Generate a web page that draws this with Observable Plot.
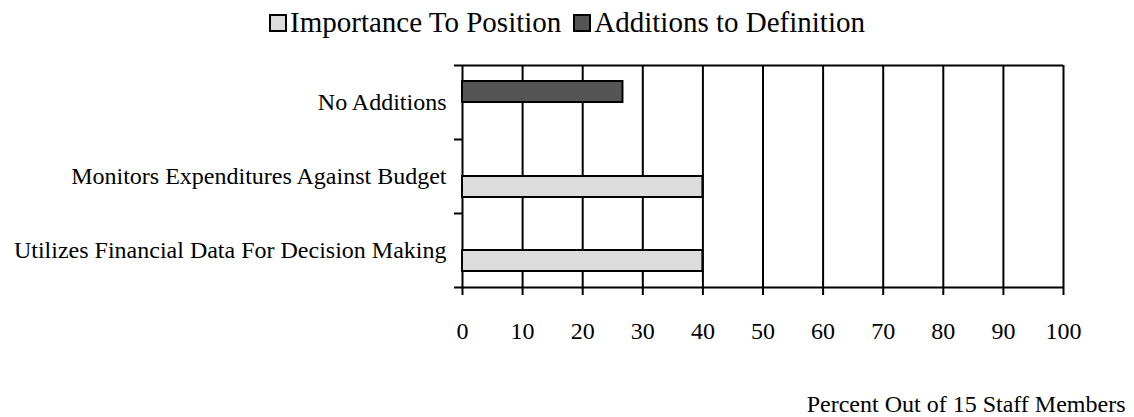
<!DOCTYPE html>
<html>
<head>
<meta charset="utf-8">
<script src="https://cdn.jsdelivr.net/npm/d3@7"></script>
<script src="https://cdn.jsdelivr.net/npm/@observablehq/plot@0.6"></script>
<style>
  body { margin: 0; background: #fff; font-family: "Liberation Serif", "Times New Roman", serif; color: #000; }
  #legend { height: 45px; display: flex; justify-content: center; align-items: center; font-size: 29px; gap: 12px; }
  #legend .item { display: flex; align-items: center; }
  #legend .sw { display: inline-block; width: 14px; height: 14px; border: 2px solid #000; margin-right: 3px; }
</style>
</head>
<body>
<div id="legend"></div>
<div id="chart"></div>
<script>
// Categories, top to bottom
const categories = [
  "No Additions",
  "Monitors Expenditures Against Budget",
  "Utilizes Financial Data For Decision Making"
];
// Percent of 15 staff members per series (null = no bar)
const importanceToPosition = [null, 40, 40];
const additionsToDefinition = [26.7, null, null];

const seriesNames = ["Importance To Position", "Additions to Definition"];
const seriesColors = ["#dcdcdc", "#555555"];
const xTicks = [0, 10, 20, 30, 40, 50, 60, 70, 80, 90, 100];
const xLabel = "Percent Out of 15 Staff Members";

// Legend
const legend = document.getElementById("legend");
seriesNames.forEach((name, i) => {
  const item = document.createElement("span");
  item.className = "item";
  const sw = document.createElement("span");
  sw.className = "sw";
  sw.style.background = seriesColors[i];
  item.appendChild(sw);
  item.appendChild(document.createTextNode(name));
  legend.appendChild(item);
});

const toRows = (values) => categories
  .map((category, i) => ({category, value: values[i]}))
  .filter((d) => d.value != null);

const W = 1134, H = 372;
const mt = 20, mb = 130, ml = 462, mr = 71;
const band = (H - mt - mb) / categories.length;
const barH = 21;
const font = '"Liberation Serif", "Times New Roman", serif';
const last = categories[categories.length - 1];

const chart = Plot.plot({
  width: W,
  height: H,
  marginTop: mt,
  marginBottom: mb,
  marginLeft: ml,
  marginRight: mr,
  style: {fontFamily: font, fontSize: "24px", color: "#000", background: "#fff"},
  x: {domain: [0, 100]},
  y: {domain: categories, padding: 0},
  marks: [
    // vertical grid lines
    Plot.ruleX(xTicks, {stroke: "#000", strokeWidth: 2}),
    // bars
    Plot.barX(toRows(importanceToPosition), {
      x: "value", y: "category", fill: seriesColors[0], stroke: "#000", strokeWidth: 2,
      insetTop: band / 2, insetBottom: band / 2 - barH
    }),
    Plot.barX(toRows(additionsToDefinition), {
      x: "value", y: "category", fill: seriesColors[1], stroke: "#000", strokeWidth: 2,
      insetTop: band / 2 - barH, insetBottom: band / 2
    }),
    // top border and bottom axis line, with left tick stubs
    Plot.ruleY([categories[0]], {y: (d) => d, x1: 0, x2: 100, dy: -band / 2, insetLeft: -8, stroke: "#000", strokeWidth: 2}),
    Plot.ruleY([last], {y: (d) => d, x1: 0, x2: 100, dy: band / 2, insetLeft: -8, stroke: "#000", strokeWidth: 2}),
    // category boundary ticks
    Plot.ruleY(categories.slice(1), {y: (d) => d, x1: 0, x2: 0, dy: -band / 2, insetLeft: -8, stroke: "#000", strokeWidth: 2}),
    Plot.axisX(xTicks, {tickSize: 8, tickPadding: 26, strokeWidth: 2, fontSize: 24, label: null}),
    Plot.axisY({tickSize: 0, tickPadding: 16, fontSize: 24, label: null}),
    Plot.text([xLabel], {
      frameAnchor: "bottom-right", textAnchor: "end", lineAnchor: "middle",
      dx: 62, dy: 117, fontSize: 24, fill: "#000"
    })
  ]
});
document.getElementById("chart").appendChild(chart);
</script>
</body>
</html>
